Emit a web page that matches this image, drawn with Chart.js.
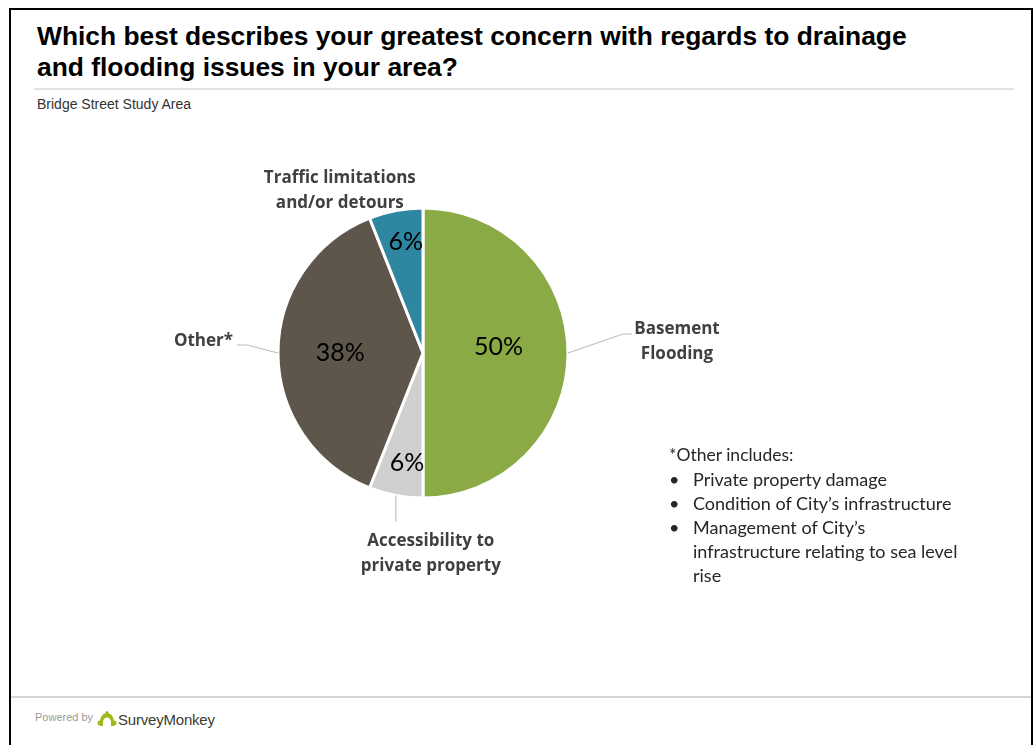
<!DOCTYPE html>
<html lang="en">
<head>
  <meta charset="UTF-8">
  <title>Drainage and flooding concerns</title>
  <script src="https://cdn.jsdelivr.net/npm/chart.js"></script>
  <style>
    body { margin: 0; width: 1034px; height: 745px; background: #fff; overflow: hidden; position: relative; font-family: "Liberation Sans", Arial, sans-serif; }
    .frame { position: absolute; left: 9px; top: 8px; width: 1020px; height: 800px; border: 2px solid #000; }
    h1 { position: absolute; left: 37px; top: 21px; margin: 0; font-size: 26.4px; line-height: 31px; font-weight: bold; color: #000; }
    .rule { position: absolute; left: 34px; top: 88px; width: 980px; height: 2px; background: #e2e2e2; }
    .sub { position: absolute; left: 37px; top: 96px; font-size: 14px; color: #333; }
    #wrap { position: absolute; left: 100px; top: 140px; width: 700px; height: 460px; }
    .note { position: absolute; left: 669px; top: 443px; font-family: Lato, sans-serif; font-size: 17.5px; line-height: 24px; color: #262626; }
    .note ul { list-style: none; margin: 0; padding: 0; }
    .note li { position: relative; padding-left: 24px; font-size: 18px; }
    .note li::before { content: "\2022"; position: absolute; left: 0; }
    .foot { position: absolute; left: 11px; top: 696px; width: 1020px; height: 2px; background: #d6d6d6; }
    .powered { position: absolute; left: 35px; top: 711px; font-size: 11px; color: #999; }
    .logo { position: absolute; left: 97px; top: 710px; }
    .brand { position: absolute; left: 118px; top: 711px; font-size: 15px; color: #3c3c2e; letter-spacing: -0.2px; }
  </style>
</head>
<body>
  <div class="frame"></div>
  <h1>Which best describes your greatest concern with regards to drainage<br>and flooding issues in your area?</h1>
  <div class="rule"></div>
  <div class="sub">Bridge Street Study Area</div>

  <div id="wrap"><canvas id="pie"></canvas></div>

  <div class="note">
    *Other includes:
    <ul>
      <li>Private property damage</li>
      <li>Condition of City’s infrastructure</li>
      <li>Management of City’s<br>infrastructure relating to sea level<br>rise</li>
    </ul>
  </div>

  <div class="foot"></div>
  <div class="powered">Powered by</div>
  <svg class="logo" width="20" height="20" viewBox="0 0 20 20">
    <path d="M10 3c-4 0-7 4-7 9v4h3v-4c0-2.5 1.8-4.5 4-4.5s4 2 4 4.5v4h3v-4c0-5-3-9-7-9z" fill="#9cba1e"/>
    <circle cx="3" cy="13" r="2.5" fill="#9cba1e"/>
    <circle cx="17" cy="13" r="2.5" fill="#9cba1e"/>
    <circle cx="10" cy="2.5" r="1.5" fill="#9cba1e"/>
  </svg>
  <div class="brand">SurveyMonkey</div>

  <script>
    // data, clockwise from 12 o'clock
    const categories = ['Basement Flooding', 'Accessibility to private property', 'Other*', 'Traffic limitations and/or detours'];
    const labelLines = [['Basement', 'Flooding'], ['Accessibility to', 'private property'], ['Other*'], ['Traffic limitations', 'and/or detours']];
    const percents = [50, 6, 38, 6];
    const colors = ['#8aaa46', '#d0d0d0', '#5e564b', '#2f86a0'];

    // label placement relative to the slice's outer edge point (styling only)
    const innerFrac = [0.52, 0.77, 0.57, 0.78];
    const innerNudge = [[0, -6], [5, 0], [0, 0], [4, 0]];
    const leaders = [
      [[55, -19], [64, -19]],
      [[0, 26]],
      [[-31, -8], [-41, -8]],
      []
    ];
    const outerPos = [
      { dx: 109, dy: -24, align: 'center' },
      { dx: 35, dy: 45.5, align: 'center' },
      { dx: -45, dy: -12, align: 'right' },
      { dx: -56, dy: -32, align: 'center' }
    ];

    const sliceLabels = {
      id: 'sliceLabels',
      afterDatasetsDraw(chart) {
        const ctx = chart.ctx;
        const meta = chart.getDatasetMeta(0);
        ctx.save();
        meta.data.forEach((arc, i) => {
          const p = arc.getProps(['x', 'y', 'startAngle', 'endAngle', 'outerRadius'], true);
          const mid = (p.startAngle + p.endAngle) / 2;
          const c = Math.cos(mid), s = Math.sin(mid);

          // percentage inside slice
          const r = p.outerRadius * innerFrac[i];
          ctx.fillStyle = '#000';
          ctx.font = '25px Lato, sans-serif';
          ctx.textAlign = 'center';
          ctx.textBaseline = 'middle';
          ctx.fillText(percents[i] + '%', p.x + c * r + innerNudge[i][0], p.y + s * r + innerNudge[i][1]);

          // leader line
          const ex = p.x + c * p.outerRadius, ey = p.y + s * p.outerRadius;
          if (leaders[i].length) {
            ctx.strokeStyle = '#bdbdbd';
            ctx.lineWidth = 1.2;
            ctx.beginPath();
            ctx.moveTo(ex, ey);
            leaders[i].forEach(pt => ctx.lineTo(ex + pt[0], ey + pt[1]));
            ctx.stroke();
          }

          // category label (middle baseline, 25px line step)
          const o = outerPos[i];
          ctx.fillStyle = '#404040';
          ctx.font = 'bold 17px "Open Sans", sans-serif';
          ctx.textAlign = o.align;
          ctx.textBaseline = 'middle';
          labelLines[i].forEach((line, k) => {
            ctx.fillText(line, ex + o.dx, ey + o.dy + k * 25);
          });
        });
        ctx.restore();
      }
    };

    new Chart(document.getElementById('pie'), {
      type: 'pie',
      data: {
        labels: categories,
        datasets: [{
          data: percents,
          backgroundColor: colors,
          borderColor: '#fff',
          borderWidth: 3,
          radius: 145
        }]
      },
      options: {
        responsive: true,
        maintainAspectRatio: false,
        animation: false,
        layout: { padding: { left: 179, right: 233, top: 69, bottom: 103 } },
        plugins: {
          legend: { display: false },
          tooltip: { enabled: false }
        }
      },
      plugins: [sliceLabels]
    });
  </script>
</body>
</html>
